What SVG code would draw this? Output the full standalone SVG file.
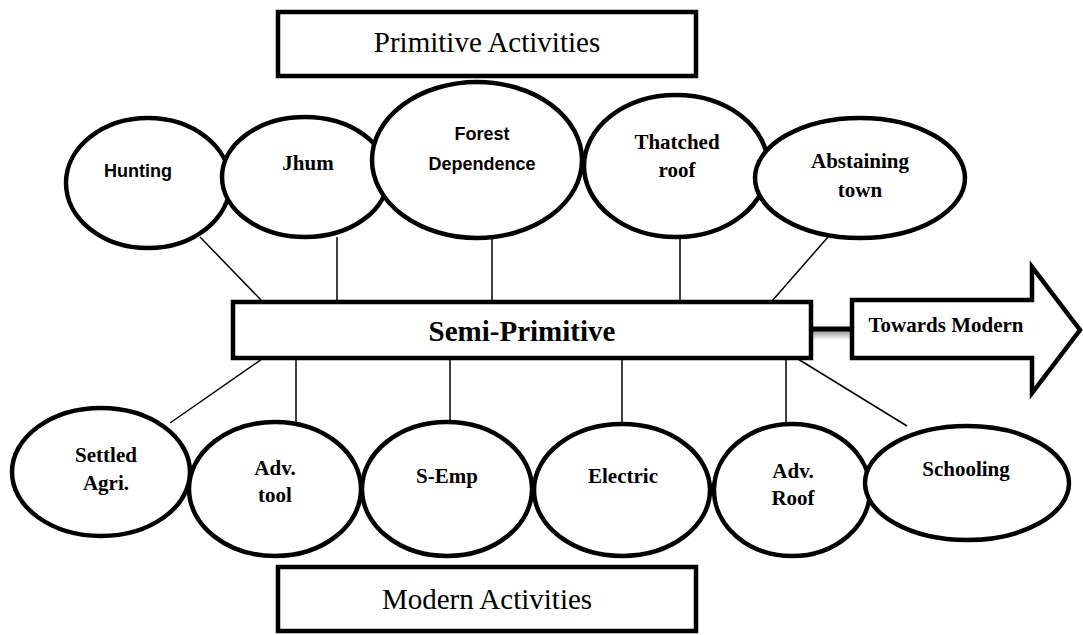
<svg xmlns="http://www.w3.org/2000/svg" width="1083" height="635" viewBox="0 0 1083 635">
<style>
.box{fill:#fff;stroke:#000;stroke-width:4.5}
.ell{fill:#fff;stroke:#000;stroke-width:4.5}
.ln{stroke:#000;stroke-width:1.5;fill:none}
.big{font-family:"Liberation Serif","Times New Roman",serif;font-size:29px;fill:#000;text-anchor:middle}
.sb{font-family:"Liberation Serif","Times New Roman",serif;font-size:21px;font-weight:bold;fill:#000;text-anchor:middle}
.ss{font-family:"Liberation Sans",Arial,sans-serif;font-size:18px;font-weight:bold;fill:#000;text-anchor:middle}
</style>
<defs>
<linearGradient id="sh" x1="0" y1="0" x2="0" y2="1">
<stop offset="0" stop-color="#999"/>
<stop offset="1" stop-color="#fff"/>
</linearGradient>
</defs>
<g id="connectors">
<line class="ln" x1="200" y1="237" x2="262" y2="301"/>
<line class="ln" x1="337" y1="237" x2="337" y2="301"/>
<line class="ln" x1="492" y1="237" x2="492" y2="301"/>
<line class="ln" x1="680" y1="237" x2="680" y2="301"/>
<line class="ln" x1="828" y1="237" x2="772" y2="301"/>
<line class="ln" x1="262" y1="359" x2="170" y2="423"/>
<line class="ln" x1="296" y1="359" x2="296" y2="423"/>
<line class="ln" x1="450" y1="359" x2="450" y2="423"/>
<line class="ln" x1="622" y1="359" x2="622" y2="426"/>
<line class="ln" x1="786" y1="359" x2="786" y2="426"/>
<line class="ln" x1="798" y1="359" x2="907" y2="426"/>
<rect x="812" y="331" width="40" height="9" fill="url(#sh)"/>
<line x1="812" y1="329" x2="853" y2="329" stroke="#000" stroke-width="5"/>
</g>
<g id="primitive-activities">
<rect class="box" x="278" y="12" width="418" height="64"/>
<text class="big" x="487" y="52">Primitive Activities</text>
</g>
<g id="hunting">
<ellipse class="ell" cx="148" cy="183" rx="82" ry="65"/>
<text class="ss" x="138" y="177">Hunting</text>
</g>
<g id="jhum">
<ellipse class="ell" cx="305" cy="177" rx="83" ry="60"/>
<text class="sb" x="308" y="170">Jhum</text>
</g>
<g id="forest-dependence">
<ellipse class="ell" cx="477" cy="160" rx="105" ry="78"/>
<text class="ss" x="482" y="140">Forest</text>
<text class="ss" x="482" y="170">Dependence</text>
</g>
<g id="thatched-roof">
<ellipse class="ell" cx="676" cy="166" rx="92" ry="71"/>
<text class="sb" x="677" y="149">Thatched</text>
<text class="sb" x="677" y="177">roof</text>
</g>
<g id="abstaining-town">
<ellipse class="ell" cx="860" cy="178" rx="105" ry="60"/>
<text class="sb" x="860" y="168">Abstaining</text>
<text class="sb" x="860" y="197">town</text>
</g>
<g id="semi-primitive">
<rect class="box" x="233" y="302" width="578" height="56"/>
<text class="big" x="522" y="341" font-weight="bold">Semi-Primitive</text>
</g>
<g id="towards-modern">
<path class="box" d="M852,300 L1032,300 L1032,267 L1080,330 L1032,393 L1032,358 L852,358 Z" stroke-linejoin="miter"/>
<text class="sb" x="946" y="332">Towards Modern</text>
</g>
<g id="settled-agri">
<ellipse class="ell" cx="101" cy="472" rx="89" ry="64"/>
<text class="sb" x="106" y="462">Settled</text>
<text class="sb" x="106" y="490">Agri.</text>
</g>
<g id="adv-tool">
<ellipse class="ell" cx="275" cy="489" rx="86" ry="67"/>
<text class="sb" x="275" y="475">Adv.</text>
<text class="sb" x="275" y="502">tool</text>
</g>
<g id="s-emp">
<ellipse class="ell" cx="447" cy="489" rx="85" ry="67"/>
<text class="sb" x="447" y="483">S-Emp</text>
</g>
<g id="electric">
<ellipse class="ell" cx="622" cy="490" rx="88" ry="66"/>
<text class="sb" x="623" y="483">Electric</text>
</g>
<g id="adv-roof">
<ellipse class="ell" cx="792" cy="490" rx="78" ry="66"/>
<text class="sb" x="793" y="478">Adv.</text>
<text class="sb" x="793" y="505">Roof</text>
</g>
<g id="schooling">
<ellipse class="ell" cx="967" cy="483" rx="102" ry="57"/>
<text class="sb" x="966" y="476">Schooling</text>
</g>
<g id="modern-activities">
<rect class="box" x="278" y="567" width="418" height="64"/>
<text class="big" x="487" y="609">Modern Activities</text>
</g>
</svg>
